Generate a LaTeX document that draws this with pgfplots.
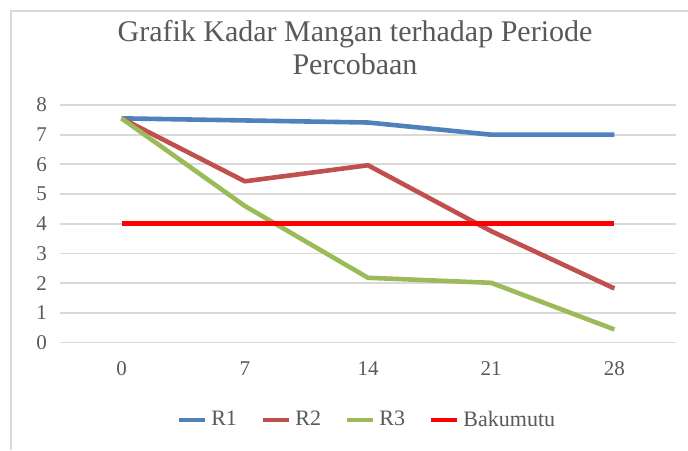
\documentclass[border=0pt]{standalone}
\usepackage{fontspec}
\setmainfont{Liberation Serif}
\usepackage{pgfplots}
\pgfplotsset{compat=1.18}
\usetikzlibrary{calc}

\definecolor{rone}{HTML}{4F81BD}
\definecolor{rtwo}{HTML}{C0504D}
\definecolor{rthree}{HTML}{9BBB59}
\definecolor{txt}{HTML}{595959}
\definecolor{gridc}{HTML}{D9D9D9}

\begin{document}
\begin{tikzpicture}
\begin{axis}[
    scale only axis,
    width=308pt, height=118.75pt,
    xmin=-0.5, xmax=4.5,
    ymin=0, ymax=8,
    xtick={0,1,2,3,4},
    xticklabels={0,7,14,21,28},
    ytick={0,1,...,8},
    ymajorgrids,
    grid style={gridc, line width=0.9pt},
    axis line style={draw=none},
    major tick length=0pt,
    tick label style={font=\fontsize{10.5}{12}\selectfont, text=txt},
    xticklabel style={yshift=-6pt},
    yticklabel style={xshift=-3pt},
    /pgf/number format/assume math mode=true,
    legend columns=4,
    legend style={draw=none, at={(0.5,0)}, yshift=-38.75pt, anchor=center,
        font=\fontsize{11}{13}\selectfont, text=txt,
        /tikz/every even column/.append style={column sep=10pt}},
    legend image code/.code={\draw[#1, line width=2.2pt] (0pt,0pt) -- (13pt,0pt);},
    every axis plot/.append style={line width=2.3pt, line join=round},
    clip=false,
]
\addplot[rone] coordinates {(0,7.55) (1,7.48) (2,7.41) (3,7.0) (4,7.0)};
\addlegendentry{R1}
\addplot[rtwo] coordinates {(0,7.55) (1,5.43) (2,5.97) (3,3.75) (4,1.82)};
\addlegendentry{R2}
\addplot[rthree] coordinates {(0,7.55) (1,4.6) (2,2.18) (3,2.01) (4,0.44)};
\addlegendentry{R3}
\addplot[red] coordinates {(0,4) (1,4) (2,4) (3,4) (4,4)};
\addlegendentry{Bakumutu}
\coordinate (ll) at (rel axis cs:0,0);
\end{axis}
\pgfresetboundingbox
\path[use as bounding box] ($(ll)+(-30pt,-53.75pt)$) rectangle ++(344pt,225pt);
\draw[gridc, line width=0.6pt] ($(ll)+(-24.5pt,-53.75pt)$) -- ($(ll)+(-24.5pt,165.75pt)$) -- ($(ll)+(314pt,165.75pt)$);
\node[anchor=base, text=txt, font=\fontsize{15}{17}\selectfont] at ($(ll)+(147.5pt,150.5pt)$) {Grafik Kadar Mangan terhadap Periode};
\node[anchor=base, text=txt, font=\fontsize{15}{17}\selectfont] at ($(ll)+(147.5pt,133.75pt)$) {Percobaan};
\end{tikzpicture}
\end{document}
